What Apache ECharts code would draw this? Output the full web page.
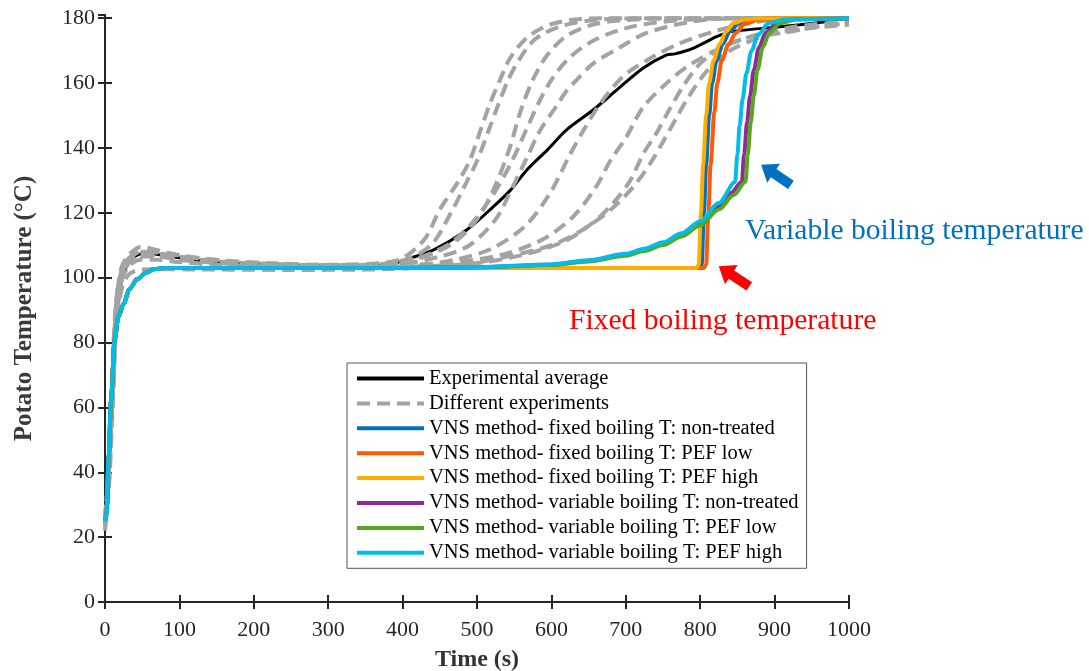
<!DOCTYPE html>
<html>
<head>
<meta charset="utf-8">
<script src="https://cdn.jsdelivr.net/npm/echarts@6/dist/echarts.min.js"></script>
<style>
  html, body { margin: 0; padding: 0; background: #fff; }
  #chart { width: 1089px; height: 671px; }
</style>
</head>
<body>
<div id="chart"></div>
<script>
// time (s), temperature (°C) pairs

const expAverage = [[0,24],[5,40],[10,65],[15,85],[20,96],[28,103],[40,106.5],[55,107.5],[80,106.8],[120,105.5],[170,104.5],[250,103.8],[330,103.6],[380,104],[403,105.5],[441,108.5],[486,114.7],[522,121.9],[545,127],[567,133.2],[595,139.5],[620,145.5],[656,151.7],[688,157.9],[723,164.6],[755,168.7],[766,169],[791,170.8],[822,174.3],[840,175.8],[880,176.8],[934,178],[970,179],[997,180],[1000,180]];

const expA1 = [[0,22],[5,38],[10,68],[15,92],[22,103],[32,107],[48,109.5],[70,108.5],[100,107],[150,105.5],[220,104.5],[300,104],[370,104.5],[400,106],[430,112],[450,121],[473,129],[490,136],[504,145],[518,154],[531,161],[544,167.5],[567,174],[598,178],[640,179.8],[700,180],[1000,180]];
const expA2 = [[0,25],[5,42],[10,72],[15,93],[22,102],[32,106],[48,108],[70,107.5],[100,106.5],[150,105],[220,104.2],[300,103.8],[370,104.2],[410,106],[440,110.5],[465,120],[485,129],[500,136],[515,145],[528,153],[542,161],[556,167],[578,173.5],[612,177.5],[660,179.5],[720,180],[1000,180]];
const expB = [[0,24],[5,36],[10,62],[15,88],[22,100],[32,105],[48,107],[70,107],[100,106],[150,104.8],[220,104],[300,103.5],[380,104],[430,106.5],[470,111],[500,118],[522,127],[544,140],[558,151],[575,161],[594,168.5],[620,174.5],[660,178.3],[720,179.7],[800,180],[1000,180]];
const expC = [[0,26],[5,40],[10,66],[15,90],[22,101],[32,105.5],[48,108],[70,107.8],[100,106.8],[150,105.2],[220,104.3],[300,103.8],[400,104.3],[450,106.5],[490,110],[525,118],[548,128],[567,137],[585,145.5],[607,153],[620,157.5],[634,161],[656,166],[692,171],[728,175.5],[790,179],[850,180],[1000,180]];
const expD = [[0,23],[5,34],[10,58],[15,84],[22,99],[32,104.5],[48,106.5],[70,106.5],[100,105.5],[150,104.5],[220,103.8],[300,103.5],[420,104],[470,105.5],[520,109],[565,116],[598,126],[625,138],[642,145],[665,153.5],[696,162],[728,167],[770,172],[820,176],[880,179],[950,180],[1000,180]];
const expE = [[0,24],[5,37],[10,64],[15,89],[22,100],[32,105],[48,107.5],[70,107.3],[100,106.3],[150,105],[220,104.2],[300,103.8],[420,104],[480,105],[540,107.5],[590,112],[630,119],[660,128],[679,136],[701,143.5],[723,152.5],[755,160],[782,165],[820,170],[870,174.5],[930,177.5],[1000,179]];
const expF = [[0,25],[5,39],[10,65],[15,88],[22,99],[32,103.5],[48,105.5],[70,105.5],[100,104.8],[150,104],[220,103.5],[300,103.3],[420,103.5],[500,104.5],[570,107.5],[620,111.5],[656,117],[683,123],[706,130],[723,138],[741,144.5],[759,152],[777,159],[800,166],[830,171],[870,174.5],[911,175.5],[960,177.5],[1000,178.5]];
const expG = [[0,26],[5,40],[10,62],[15,84],[22,96],[32,101],[48,102.5],[70,102.6],[150,102.5],[250,102.4],[350,102.5],[420,103],[480,104],[540,106.5],[600,110],[640,114.5],[680,121],[710,128],[735,136],[760,146],[785,156],[810,164],[840,170],[880,174],[930,176.5],[1000,178]];
const expH = [[0,24],[5,38],[10,63],[15,88],[22,100],[32,105],[48,107.8],[70,107.5],[100,106.3],[150,105],[220,104.2],[300,103.8],[380,104.2],[420,106],[460,110],[490,116],[520,125],[545,135],[565,145],[583,154],[600,161],[625,168],[660,173.5],[710,177.5],[780,179.5],[850,180],[1000,180]];

const fixedNonTreated = [[0,25],[2,27],[5,45],[8,62],[13,81],[18,88],[25,92],[33,96.5],[43,99.5],[55,101.5],[65,102.6],[80,103],[100,103],[799,103],[802,104],[805,120],[808,135],[812,150],[816,160],[822,167],[830,172],[840,176],[852,178.5],[868,179.6],[890,180],[1000,180]];
const fixedPefLow = [[0,25],[2,27],[5,45],[8,62],[13,81],[18,88],[25,92],[33,96.5],[43,99.5],[55,101.5],[65,102.6],[80,103],[100,103],[805,103],[808,104],[811,120],[814,135],[819,151],[823,160],[829,167],[838,172],[848,175.5],[860,178.3],[880,179.6],[905,180],[1000,180]];
const fixedPefHigh = [[0,25],[2,27],[5,45],[8,62],[13,81],[18,88],[25,92],[33,96.5],[43,99.5],[55,101.5],[65,102.6],[80,103],[100,103],[795,103],[798,104],[801,120],[804,135],[808,150],[812,160],[818,167],[826,172],[835,176],[845,178.5],[860,179.6],[880,180],[1000,180]];
const varNonTreated = [[0,25],[2,27],[5,45],[8,62],[13,81],[18,88],[25,92],[33,96.5],[43,99.5],[55,101.5],[65,102.6],[80,103],[100,103],[400,103],[500,103.25],[600,104],[650,105.2],[700,107.1],[725,108.6],[750,110.5],[775,113.2],[800,116.8],[825,122],[842,126.2],[856,129.6],[859,138],[863,148],[867,156],[872,164],[879,171],[888,175.5],[903,178.5],[925,179.7],[1000,180]];
const varPefLow = [[0,25],[2,27],[5,45],[8,62],[13,81],[18,88],[25,92],[33,96.5],[43,99.5],[55,101.5],[65,102.6],[80,103],[100,103],[400,103],[500,103.2],[600,103.9],[650,105],[700,106.8],[725,108.2],[750,110.1],[775,112.7],[800,116.1],[825,121],[845,125.5],[861,129.6],[864,138],[868,148],[872,156],[877,164],[884,171],[893,175.5],[908,178.5],[930,179.7],[1000,180]];
const varPefHigh = [[0,25],[2,27],[5,45],[8,62],[13,81],[18,88],[25,92],[33,96.5],[43,99.5],[55,101.5],[65,102.6],[80,103],[100,103],[400,103],[500,103.3],[600,104.1],[650,105.4],[700,107.4],[725,108.9],[750,110.9],[775,113.7],[800,117.4],[825,123],[847,129.5],[850,138],[853,147],[857,155],[862,163],[869,170],[878,175],[892,178.5],[915,179.7],[1000,180]];

const experiments = [expA1, expA2, expB, expC, expD, expE, expF, expG, expH];

const legendNames = [
  'Experimental average',
  'Different experiments',
  'VNS method- fixed boiling T: non-treated',
  'VNS method- fixed boiling T: PEF low',
  'VNS method- fixed boiling T: PEF high',
  'VNS method- variable boiling T: non-treated',
  'VNS method- variable boiling T: PEF low',
  'VNS method- variable boiling T: PEF high'
];

const serif = 'Liberation Serif';
const axisColor = '#262626';

const chart = echarts.init(document.getElementById('chart'), null, { renderer: 'canvas' });

function modelLine(name, data, color) {
  return {
    name: name,
    type: 'line',
    data: data,
    symbol: 'none',
    smooth: 0.3,
    smoothMonotone: 'x',
    lineStyle: { color: color, width: 4 },
    itemStyle: { color: color }
  };
}

const series = [];
series.push({
  name: legendNames[0],
  type: 'line',
  data: expAverage,
  symbol: 'none',
  smooth: 0.3,
  lineStyle: { color: '#000', width: 3 },
  itemStyle: { color: '#000' }
});
experiments.forEach(function (d) {
  series.push({
    name: legendNames[1],
    type: 'line',
    data: d,
    symbol: 'none',
    smooth: 0.3,
    lineStyle: { color: '#a3a3a3', width: 4, type: [13, 7] },
    itemStyle: { color: '#a3a3a3' }
  });
});
series.push(modelLine(legendNames[2], fixedNonTreated, '#0072bd'));
series.push(modelLine(legendNames[3], fixedPefLow, '#ff5a0a'));
series.push(modelLine(legendNames[4], fixedPefHigh, '#ffae00'));
series.push(modelLine(legendNames[5], varNonTreated, '#8b2d96'));
series.push(modelLine(legendNames[6], varPefLow, '#5aa61e'));
series.push(modelLine(legendNames[7], varPefHigh, '#00bce8'));

const tickLabel = { fontFamily: serif, fontSize: 22, color: axisColor };
const lineOpt = { show: true, lineStyle: { color: axisColor, width: 2 } };
const tickOpt = { show: true, inside: true, length: 7, lineStyle: { color: axisColor, width: 2 } };

chart.setOption({
  animation: false,
  backgroundColor: '#fff',
  grid: { left: 105, right: 240, top: 15, bottom: 69, outerBoundsMode: 'none' },
  legend: {
    data: legendNames,
    orient: 'vertical',
    left: 347,
    top: 363,
    padding: [5, 8, 5, 8],
    itemWidth: 67,
    itemHeight: 20,
    itemGap: 3.9,
    backgroundColor: '#fff',
    borderColor: '#555',
    borderWidth: 1,
    selectedMode: false,
    itemStyle: { opacity: 0 },
    lineStyle: { width: 4 },
    textStyle: { fontFamily: serif, fontSize: 20.5, color: '#000' }
  },
  xAxis: [
    {
      type: 'value', min: 0, max: 1000, interval: 100, position: 'bottom',
      name: 'Time (s)', nameLocation: 'middle', nameGap: 46,
      nameTextStyle: { fontFamily: serif, fontSize: 24, fontWeight: 'bold', color: '#333' },
      axisLine: lineOpt, axisTick: tickOpt,
      axisLabel: Object.assign({ margin: 17, formatter: function (v) { return String(v); } }, tickLabel),
      splitLine: { show: false }
    },
    {
      type: 'value', min: 0, max: 1000, interval: 100, position: 'top',
      axisLine: lineOpt, axisTick: tickOpt, axisLabel: { show: false }, splitLine: { show: false }
    }
  ],
  yAxis: [
    {
      type: 'value', min: 0, max: 181, interval: 20, position: 'left',
      name: 'Potato Temperature (°C)', nameLocation: 'middle', nameGap: 68,
      nameTextStyle: { fontFamily: serif, fontSize: 25, fontWeight: 'bold', color: '#3a3a3a' },
      axisLine: lineOpt, axisTick: tickOpt,
      axisLabel: Object.assign({
        margin: 10, showMaxLabel: false,
        formatter: function (v) { return v % 20 === 0 ? String(v) : ''; }
      }, tickLabel),
      splitLine: { show: false }
    },
    {
      type: 'value', min: 0, max: 181, interval: 20, position: 'right',
      axisLine: lineOpt, axisTick: tickOpt, axisLabel: { show: false }, splitLine: { show: false }
    }
  ],
  series: series
});

// annotation arrows, tip and tail given in data coordinates
const arrows = [
  { tip: [882, 134.8], tail: [922, 128.6], color: '#0070c0' },
  { tip: [825, 103.5], tail: [866, 97.3], color: '#ff0000' }
];

function arrowPoints(a) {
  const p1 = chart.convertToPixel({ gridIndex: 0 }, a.tip);
  const p0 = chart.convertToPixel({ gridIndex: 0 }, a.tail);
  const dx = p1[0] - p0[0], dy = p1[1] - p0[1];
  const len = Math.sqrt(dx * dx + dy * dy);
  const ux = dx / len, uy = dy / len, nx = -uy, ny = ux;
  const head = 15, bw = 5, hw = 11.5;
  const bx = p1[0] - ux * head, by = p1[1] - uy * head;
  return [
    [p0[0] + nx * bw, p0[1] + ny * bw],
    [bx + nx * bw, by + ny * bw],
    [bx + nx * hw, by + ny * hw],
    [p1[0], p1[1]],
    [bx - nx * hw, by - ny * hw],
    [bx - nx * bw, by - ny * bw],
    [p0[0] - nx * bw, p0[1] - ny * bw]
  ];
}

const graphics = arrows.map(function (a) {
  return { type: 'polygon', z: 100, shape: { points: arrowPoints(a) }, style: { fill: a.color } };
});
graphics.push({
  type: 'text', left: 745, top: 216, z: 100,
  style: { text: 'Variable boiling temperature', fill: '#0070c0', font: '29.6px "Liberation Serif"' }
});
graphics.push({
  type: 'text', left: 569, top: 306, z: 100,
  style: { text: 'Fixed boiling temperature', fill: '#ff0000', font: '29.6px "Liberation Serif"' }
});
chart.setOption({ graphic: graphics });
</script>
</body>
</html>
